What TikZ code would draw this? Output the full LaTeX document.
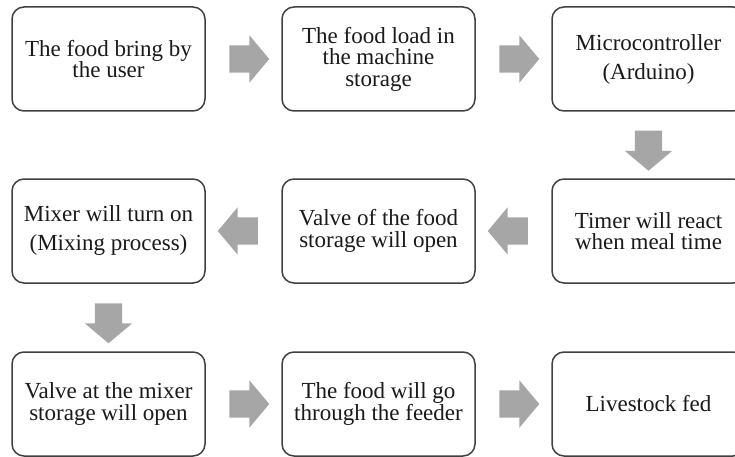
\documentclass[tikz,border=0pt]{standalone}
\usepackage{fontspec}
\setmainfont{Liberation Serif}
\usetikzlibrary{shapes.arrows, calc}

\definecolor{boxline}{HTML}{404040}
\definecolor{flowgray}{HTML}{A6A6A6}
\definecolor{boxtext}{HTML}{1A1A1A}

\begin{document}
\begin{tikzpicture}[
    x=1pt, y=-1pt,
    stage/.style={draw=boxline, line width=1.5pt, rounded corners=12pt,
                  fill=white, minimum width=193pt, minimum height=104pt,
                  inner sep=2pt, align=center, text=boxtext,
                  font=\fontsize{23}{21.5}\selectfont},
    widestage/.style={stage, font=\fontsize{23}{29}\selectfont},
    flow/.style={single arrow, fill=flowgray, draw=none, inner sep=0pt,
                 text height=13.5pt, text depth=13.5pt,
                 minimum height=40pt, minimum width=0pt,
                 single arrow head extend=10pt, single arrow tip angle=100},
]

\useasboundingbox (0,0) rectangle (735,457);
\clip (0,0) rectangle (735,457);

% --- Stages, row 1 ---
\node[stage] (bring) at (108.5, 59) {The food bring by\\the user};
\node[stage] (load) at (378.5, 59) {The food load in\\the machine\\storage};
\node[widestage] (mcu) at (648.5, 59) {Microcontroller\\(Arduino)};

% --- Stages, row 2 ---
\node[stage] (timer) at (648.5, 231) {Timer will react\\when meal time};
\node[stage] (valve) at (378.5, 231) {Valve of the food\\storage will open};
\node[widestage] (mixer) at (108.5, 231) {Mixer will turn on\\(Mixing process)};

% --- Stages, row 3 ---
\node[stage] (mixvalve) at (108.5, 404) {Valve at the mixer\\storage will open};
\node[stage] (feeder) at (378.5, 404) {The food will go\\through the feeder};
\node[stage] (fed) at (648.5, 404) {Livestock fed};

% --- Flow arrows ---
\node[flow] (f1) at ($(bring.east)!0.5!(load.west)$) {};
\node[flow] (f2) at ($(load.east)!0.5!(mcu.west)$) {};
\node[flow, rotate=-90] (f3) at ($(mcu.south)!0.5!(timer.north)$) {};
\node[flow, rotate=180] (f4) at ($(timer.west)!0.5!(valve.east)$) {};
\node[flow, rotate=180] (f5) at ($(valve.west)!0.5!(mixer.east)$) {};
\node[flow, rotate=-90] (f6) at ($(mixer.south)!0.5!(mixvalve.north)$) {};
\node[flow] (f7) at ($(mixvalve.east)!0.5!(feeder.west)$) {};
\node[flow] (f8) at ($(feeder.east)!0.5!(fed.west)$) {};

\end{tikzpicture}
\end{document}
